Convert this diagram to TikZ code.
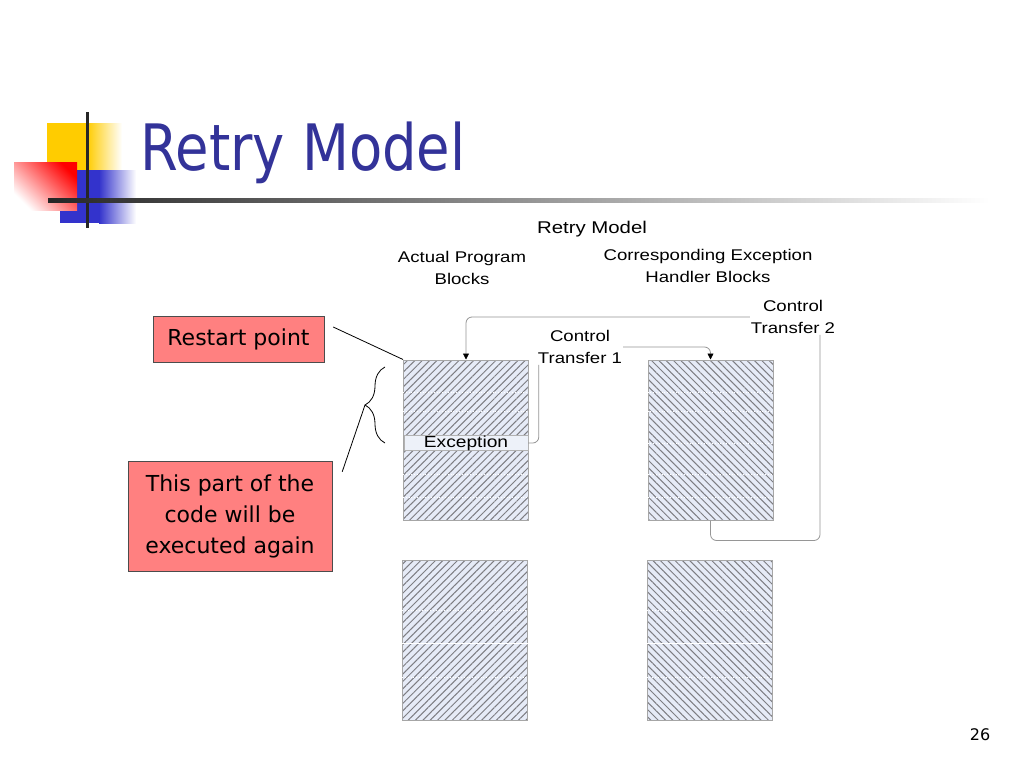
\documentclass[tikz,border=0pt]{standalone}
\usepackage{fontspec}
\usetikzlibrary{arrows.meta,patterns.meta,decorations.pathreplacing}
\newfontfamily\tahoma{DejaVu Sans}
\newfontfamily\tahomatitle[FakeStretch=0.85]{DejaVu Sans}
\newfontfamily\arialw[FakeStretch=1.2]{Liberation Sans}
\definecolor{titleblue}{RGB}{51,51,153}
\definecolor{notered}{RGB}{255,128,128}
\definecolor{blockbg}{RGB}{230,235,247}
\definecolor{hatch}{RGB}{125,125,130}
\definecolor{linkgray}{RGB}{150,150,150}
\definecolor{logoyellow}{RGB}{255,204,0}
\definecolor{logoblue}{RGB}{51,51,204}
\begin{document}
\begin{tikzpicture}[x=1pt, y=-1pt,
  note/.style = {draw=black!70, fill=notered, align=center, inner sep=0pt,
    font=\tahoma\fontsize{22}{31}\selectfont},
  block/.style = {draw=gray!70, line width=0.8pt, minimum width=125pt,
    minimum height=160pt, inner sep=0pt, preaction={fill=blockbg}},
  fwd/.style = {pattern={Lines[angle=45,distance=5.2pt,line width=1pt]}, pattern color=hatch},
  bwd/.style = {pattern={Lines[angle=-45,distance=5.2pt,line width=1pt]}, pattern color=hatch},
  lbl/.style = {align=center, inner sep=1pt, font=\arialw\fontsize{15.5}{22}\selectfont},
  link/.style = {draw=linkgray, line width=0.8pt, rounded corners=6pt},
  tip/.style = {-{Triangle[width=6pt,length=6pt,color=black]}},
  sep/.style = {white, dotted, line width=0.8pt}]
  \fill[white] (0,0) rectangle (1024,768);
  \useasboundingbox (0,0) rectangle (1024,768);

  % title logo
  \fill[logoyellow] (47,123) rectangle (88,180);
  \shade[left color=logoyellow, right color=white] (87,123) rectangle (122,180);
  \fill[logoblue] (60,170) rectangle (100,223);
  \shade[left color=logoblue, right color=white] (99,170) rectangle (136,223);
  \shade[top color=red, bottom color=white, shading angle=-45] (14,162) rectangle (77,210);
  \fill[black!85] (85.5,112) rectangle (88.5,228);
  \shade[left color=black!85, right color=white] (48,198) rectangle (990,202);
  \node[anchor=base west, inner sep=0pt, text=titleblue,
    font=\tahomatitle\fontsize{64}{64}\selectfont] (title) at (140,170) {Retry Model};
  \node[font=\tahoma\fontsize{16}{16}\selectfont] (pg) at (980,735) {26};

  \node[note, minimum width=171pt, minimum height=46pt] (rs) at (238.5,339) {Restart point};
  \node[note, minimum width=204pt, minimum height=110pt] (tp) at (230,516)
    {This part of the\\code will be\\executed again};

  \node[block,fwd] (pb1) at (466,440) {};
  \node[block,bwd] (hb1) at (710.5,440) {};
  \node[block,fwd] (pb2) at (465,640.5) {};
  \node[block,bwd] (hb2) at (709.5,640.5) {};
  \foreach \y in {392,411,474,497}
    \draw[sep] (pb1.west |- 0,\y) -- (pb1.east |- 0,\y);
  \foreach \y in {392,411,443,474,497}
    \draw[sep] (hb1.west |- 0,\y) -- (hb1.east |- 0,\y);
  \foreach \n in {pb2,hb2} {
    \draw[sep] (\n.west |- 0,610) -- (\n.east |- 0,610);
    \draw[white, line width=0.8pt] (\n.west |- 0,643) -- (\n.east |- 0,643);
    \draw[sep] (\n.west |- 0,677) -- (\n.east |- 0,677);
  }
  \node[draw=gray!60, fill=blockbg!70!white, minimum width=124pt, minimum height=14pt,
    inner sep=0pt, font=\arialw\fontsize{16}{16}\selectfont] (exc) at (466,443) {Exception};

  \node[lbl, font=\arialw\fontsize{17}{22}\selectfont] (sub) at (592,229) {Retry Model};
  \node[lbl] (pbl) at (462,268) {Actual Program\\Blocks};
  \node[lbl] (hbl) at (708,266) {Corresponding Exception\\Handler Blocks};
  \node[lbl] (ct1) at (580,347) {Control\\Transfer 1};
  \node[lbl] (ct2) at (793,317) {Control\\Transfer 2};

  \draw[link] (exc.east) -| ([xshift=2pt]ct1.south west);
  \draw[link,tip] (ct1.east) -| (hb1.north);
  \draw[link] (hb1.south) -- ++(0,20) -| ([xshift=27pt]ct2.south);
  \draw[link,tip] (ct2.west) -| (pb1.north);

  \draw[black, line width=0.8pt] ([xshift=9pt,yshift=12pt]rs.east) -- (pb1.north west);
  \draw[black, line width=0.8pt, decorate, decoration={brace, amplitude=20pt}]
    (385,443) -- (385,367);
  \coordinate (bt) at (365,405);
  \draw[black, line width=0.8pt] (bt) -- ([xshift=10pt,yshift=-11pt]tp.north east);
\end{tikzpicture}
\end{document}
